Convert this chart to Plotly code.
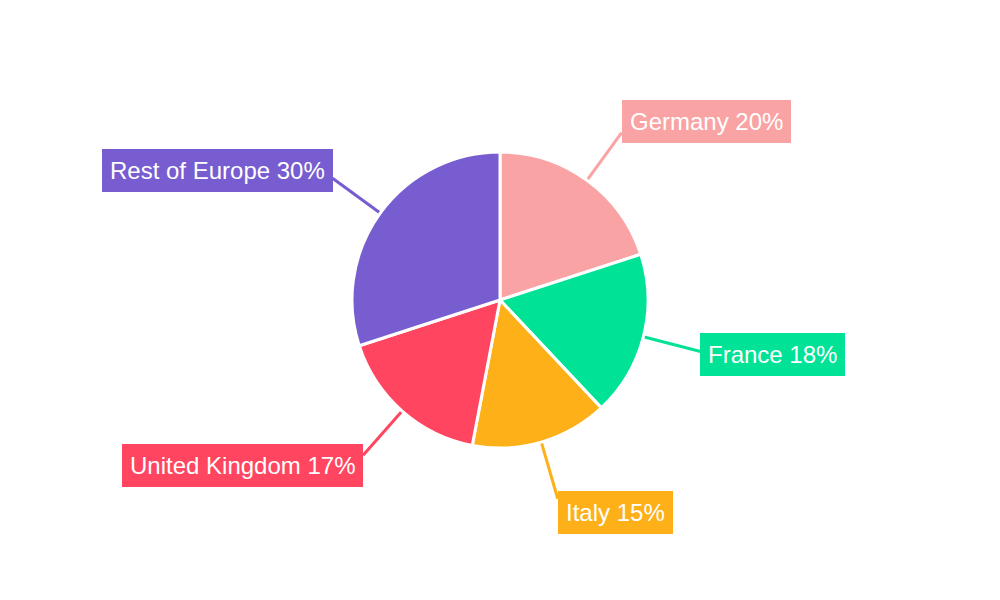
import numpy as np
import plotly.graph_objects as go

# share of sales by market
labels = ["Germany", "France", "Italy", "United Kingdom", "Rest of Europe"]
values = [20, 18, 15, 17, 30]
colors = ["#F9A3A4", "#00E396", "#FEB019", "#FF4560", "#775DD0"]

W, H = 1000, 600
cx, cy, r = 500, 300, 148   # pie centre / radius in px
r_line = 207                # where the leader line ends
lift = 14                   # vertical push of the box away from the line end

fig = go.Figure(go.Pie(
    labels=labels, values=values, sort=False, direction="clockwise", rotation=0,
    marker=dict(colors=colors, line=dict(color="white", width=3)),
    textinfo="none", hoverinfo="label+percent", showlegend=False,
    domain=dict(x=[0, 1], y=[(cy - r) / H, (cy + r) / H]),
))

## leader lines + boxed labels, placed from the slice mid angles
total = sum(values)
mids = (np.cumsum(values) - np.array(values) / 2) / total * 2 * np.pi
for lab, val, col, a in zip(labels, values, colors, mids):
    s, c = np.sin(a), np.cos(a)
    ex, ey = cx + r_line * s, cy - r_line * c
    fig.add_shape(
        type="line", xref="paper", yref="paper",
        x0=(cx + (r - 2) * s) / W, y0=1 - (cy - (r - 2) * c) / H,
        x1=ex / W, y1=1 - ey / H,
        line=dict(color=col, width=3), layer="below",
    )
    fig.add_annotation(
        x=ex / W, y=1 - (ey - lift * c) / H,
        xref="paper", yref="paper", showarrow=False,
        text=f"{lab} {round(val / total * 100)}%",
        xanchor="left" if s > 0 else "right", yanchor="middle",
        bgcolor=col, borderpad=8, borderwidth=0,
        font=dict(family="Liberation Sans, Arial", size=24, color="white"),
    )

fig.update_layout(
    width=W, height=H, margin=dict(l=0, r=0, t=0, b=0),
    paper_bgcolor="white", plot_bgcolor="white",
)
fig.write_html("out.html", config={"displayModeBar": False},
               post_script="document.body.style.margin='0';")
